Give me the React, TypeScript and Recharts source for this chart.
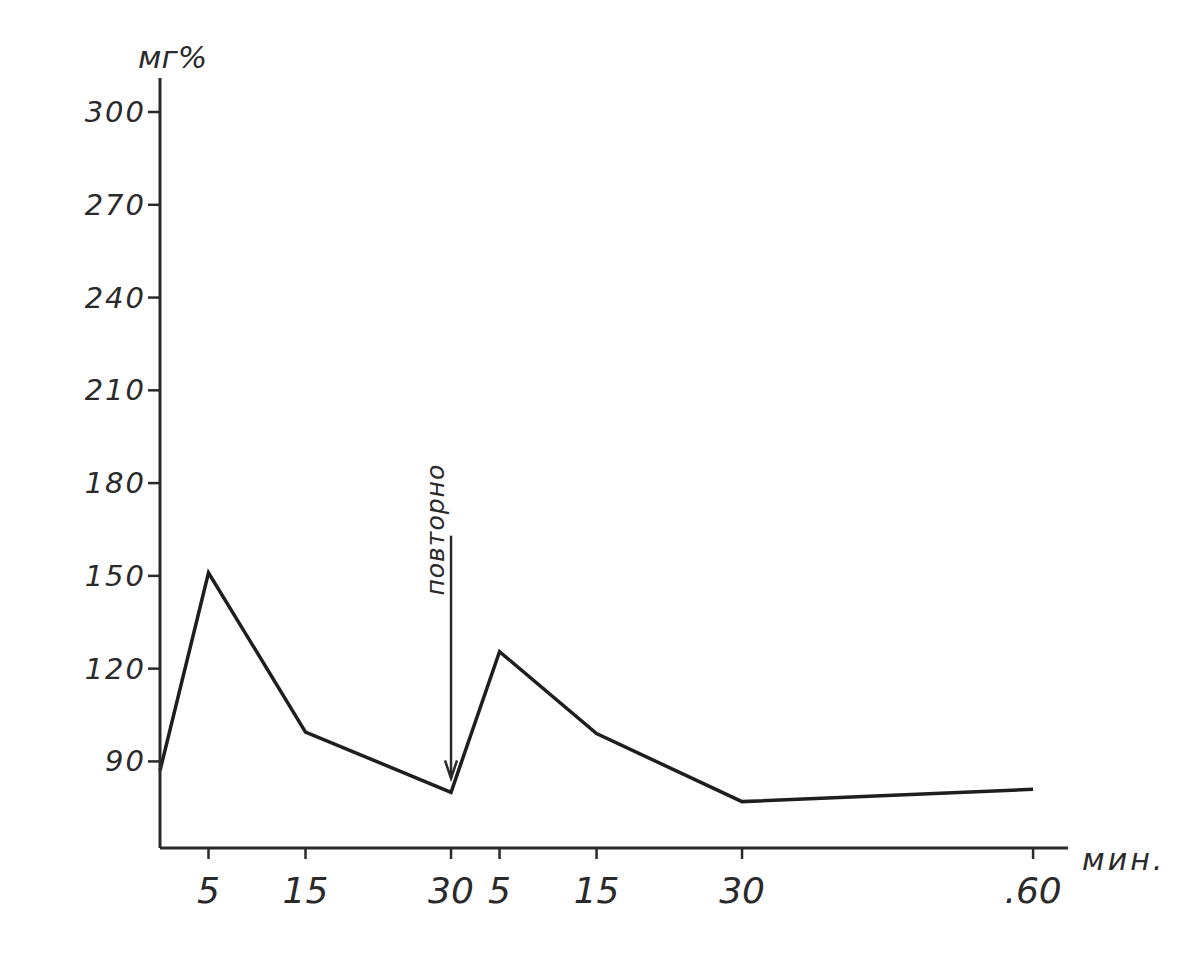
import React from 'react';
import { LineChart, Line, XAxis, YAxis, ReferenceLine } from 'recharts';

// time in minutes since first injection (second injection at 30 min)
const timeMinutes = [0, 5, 15, 30, 35, 45, 60, 90];
const sugarValues = [87, 151, 99.5, 80, 125.5, 99, 77, 81];

const xTickValues = [5, 15, 30, 35, 45, 60, 90];
const xTickLabels = ['5', '15', '30', '5', '15', '30', '.60'];
const yTickValues = [90, 120, 150, 180, 210, 240, 270, 300];

const yUnitLabel = 'мг%';
const xUnitLabel = 'мин.';
const annotationText = 'повторно';
const annotationTime = 30;
const annotationFrom = 163;
const annotationTo = 84.5;

const data = timeMinutes.map((t, i) => ({ t, v: sugarValues[i] }));

const INK = '#2a2a2a';
const FONT = '"DejaVu Sans", "Liberation Sans", sans-serif';

const XTick = (props: any) => {
  const { x, y, payload } = props;
  const idx = xTickValues.indexOf(payload.value);
  return (
    <text x={x} y={y} dy={42} textAnchor="middle" fontSize={36} fontStyle="italic"
      fontFamily={FONT} fill={INK}>
      {idx >= 0 ? xTickLabels[idx] : payload.value}
    </text>
  );
};

const YTick = (props: any) => {
  const { x, y, payload } = props;
  return (
    <text x={x} y={y} dy={10} textAnchor="end" fontSize={29} fontStyle="italic"
      fontFamily={FONT} fill={INK} letterSpacing={2}>
      {payload.value}
    </text>
  );
};

const ArrowShape = (props: any) => {
  const { x1, y1, x2, y2 } = props;
  if (x1 == null) return null;
  return (
    <g>
      <line x1={x1} y1={y1} x2={x2} y2={y2} stroke={INK} strokeWidth={2.5} />
      <polyline points={`${x2 - 6},${y2 - 18} ${x2},${y2} ${x2 + 6},${y2 - 18}`}
        fill="none" stroke={INK} strokeWidth={2.5} />
      <text x={x1 - 16} y={y1 - 6} transform={`rotate(-90 ${x1 - 16} ${y1 - 6})`}
        textAnchor="middle" dominantBaseline="central" fontSize={25} fontStyle="italic"
        fontFamily={FONT} fill={INK} letterSpacing={1}>
        {annotationText}
      </text>
    </g>
  );
};

export default function App() {
  return (
    <div style={{ width: 1160, height: 940, background: '#fff' }}>
      <LineChart width={1160} height={940} data={data}
        margin={{ top: 70, right: 100, bottom: 40, left: 0 }}>
        <XAxis type="number" dataKey="t" domain={[0, 93.6]} ticks={xTickValues}
          interval={0} height={60} tickSize={11} tick={<XTick />}
          axisLine={{ stroke: INK, strokeWidth: 3 }} tickLine={{ stroke: INK, strokeWidth: 2.5 }}
          label={{
            content: (p: any) => {
              const vb = p.viewBox || { x: 152, y: 840, width: 908 };
              return (
                <text x={vb.x + vb.width + 14} y={vb.y + 22} fontSize={30} fontStyle="italic"
                  fontFamily={FONT} fill={INK} letterSpacing={3}>{xUnitLabel}</text>
              );
            },
          }}
        />
        <YAxis type="number" domain={[62, 311]} ticks={yTickValues} width={152}
          tickSize={12} tick={<YTick />} interval={0}
          axisLine={{ stroke: INK, strokeWidth: 3 }} tickLine={{ stroke: INK, strokeWidth: 2.5 }}
          label={{
            content: (p: any) => {
              const vb = p.viewBox || { x: 0, y: 70, width: 152 };
              return (
                <text x={vb.x + vb.width - 22} y={vb.y - 10} fontSize={31} fontStyle="italic"
                  fontFamily={FONT} fill={INK}>{yUnitLabel}</text>
              );
            },
          }}
        />
        <ReferenceLine segment={[{ x: annotationTime, y: annotationFrom }, { x: annotationTime, y: annotationTo }]}
          shape={<ArrowShape />} ifOverflow="visible" />
        <Line type="linear" dataKey="v" stroke="#1e1e1e" strokeWidth={3.5} dot={false}
          isAnimationActive={false} />
      </LineChart>
    </div>
  );
}
